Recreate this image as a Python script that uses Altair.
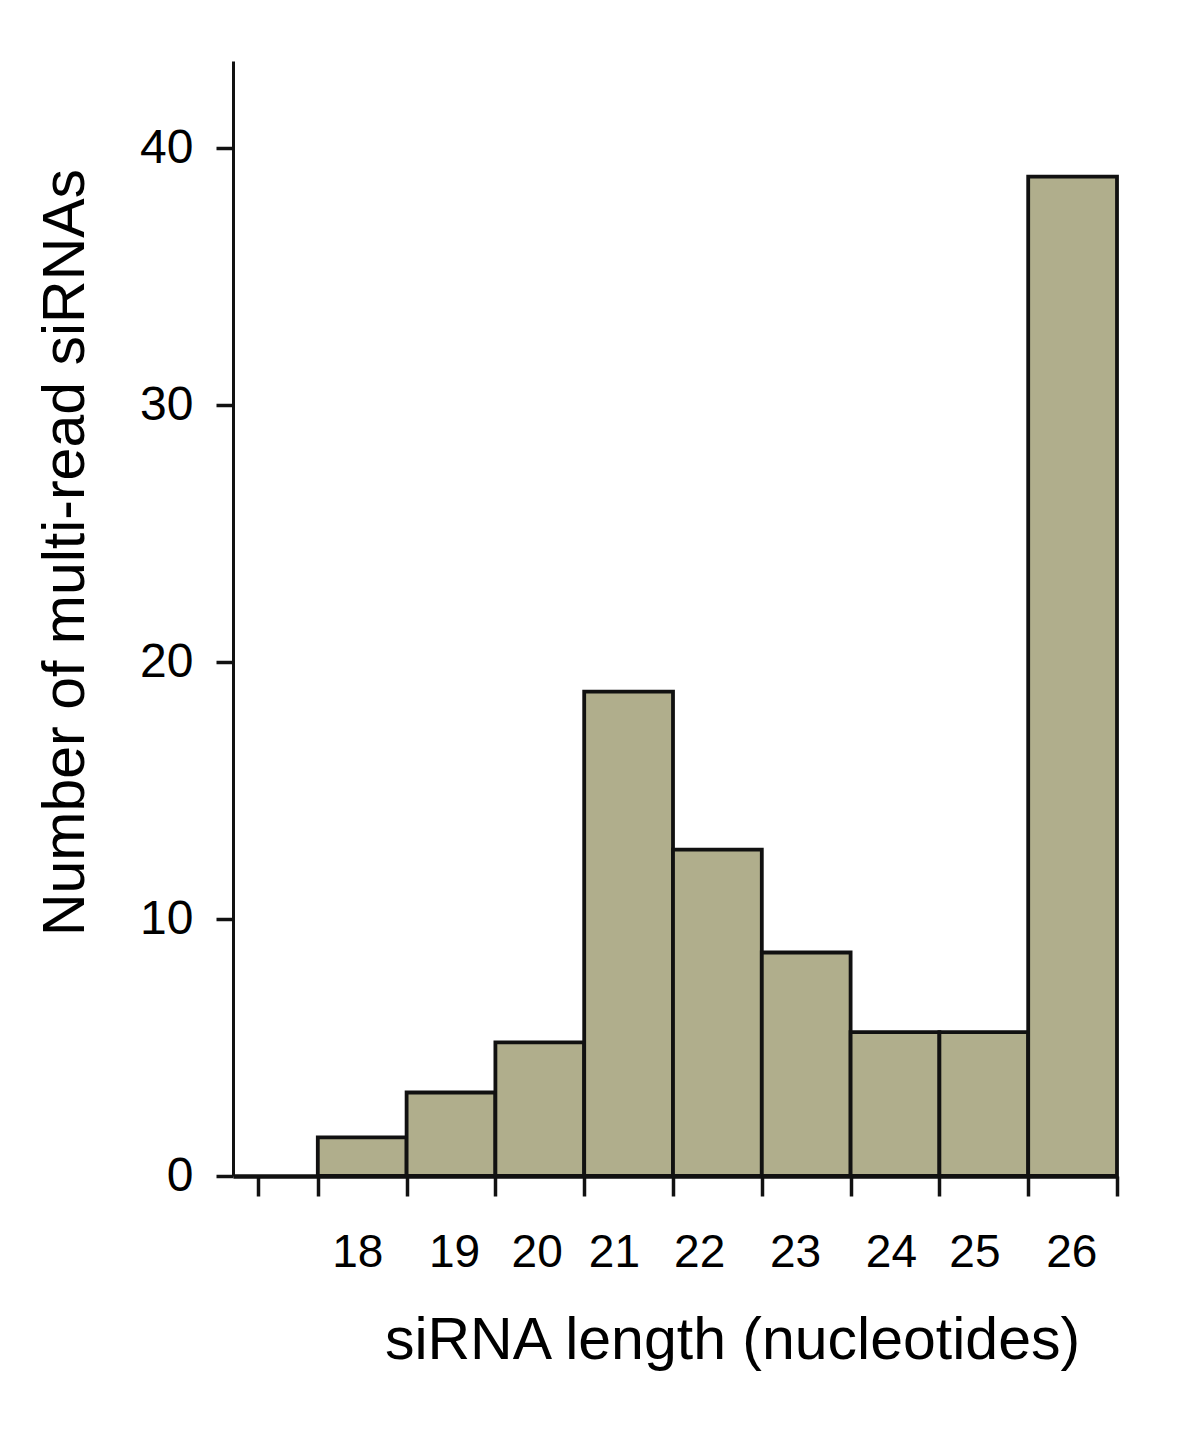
import altair as alt
import pandas as pd

# Data
lengths = [18, 19, 20, 21, 22, 23, 24, 25, 26]
counts = [1.5, 3.25, 5.2, 18.85, 12.7, 8.7, 5.6, 5.6, 38.9]

# Tick labels (text) and where they sit along the length axis
tick_labels = ["18", "19", "20", "21", "22", "23", "24", "25", "26"]
tick_label_pos = [17.95, 19.04, 19.97, 20.84, 21.80, 22.88, 23.96, 24.90, 25.99]

# Tick marks on the x axis (bin edges plus the stray leftmost tick)
x_tick_values = [16.83, 17.5, 18.5, 19.5, 20.5, 21.5, 22.5, 23.5, 24.5, 25.5, 26.5]
y_tick_values = [0, 10, 20, 30, 40]

FONT = "Liberation Sans"

bars_df = pd.DataFrame({"length": lengths, "count": counts})
labels_df = pd.DataFrame({"pos": tick_label_pos, "label": tick_labels})

x_scale = alt.Scale(domain=[16.545, 26.5], nice=False, zero=False)
y_scale = alt.Scale(domain=[0, 43.4], nice=False)

bars = (
    alt.Chart(bars_df)
    .transform_calculate(start="datum.length - 0.5", end="datum.length + 0.5")
    .mark_rect(fill="#b0ae8c", stroke="#111111", strokeWidth=3.8)
    .encode(
        x=alt.X(
            "start:Q",
            scale=x_scale,
            axis=alt.Axis(
                values=x_tick_values,
                labels=False,
                grid=False,
                ticks=True,
                tickSize=20,
                tickWidth=3.5,
                tickColor="#111111",
                domainColor="#111111",
                domainWidth=4.5,
                title="siRNA length (nucleotides)",
                titleFont=FONT,
                titleFontSize=59,
                titleFontWeight="normal",
                titleColor="#000000",
                titleX=499,
                titleY=164,
                titleBaseline="middle",
                titleAlign="center",
            ),
        ),
        x2="end:Q",
        y=alt.Y(
            "count:Q",
            scale=y_scale,
            axis=alt.Axis(
                values=y_tick_values,
                grid=False,
                tickSize=17,
                tickWidth=3.5,
                tickColor="#111111",
                domainColor="#111111",
                domainWidth=3,
                labelFont=FONT,
                labelFontSize=48,
                labelColor="#000000",
                labelPadding=23,
                title="Number of multi-read siRNAs",
                titleFont=FONT,
                titleFontSize=59,
                titleFontWeight="normal",
                titleColor="#000000",
                titleAngle=-90,
                titleX=-168,
                titleY=491,
                titleBaseline="middle",
                titleAlign="center",
            ),
        ),
        y2=alt.Y2(datum=0),
    )
)

labels = (
    alt.Chart(labels_df)
    .mark_text(font=FONT, fontSize=46, color="#000000", baseline="middle", align="center")
    .encode(
        x=alt.X("pos:Q", scale=x_scale),
        y=alt.value(1192),
        text="label:N",
    )
)

chart = (
    alt.layer(bars, labels)
    .properties(
        width=884,
        height=1115,
        background="white",
        autosize=alt.AutoSizeParams(type="none"),
        padding={"left": 225, "top": 53, "right": 60, "bottom": 200},
    )
    .configure_view(stroke="transparent", strokeWidth=0)
)

chart.save("out.html", embed_options={"renderer": "svg", "actions": False})
